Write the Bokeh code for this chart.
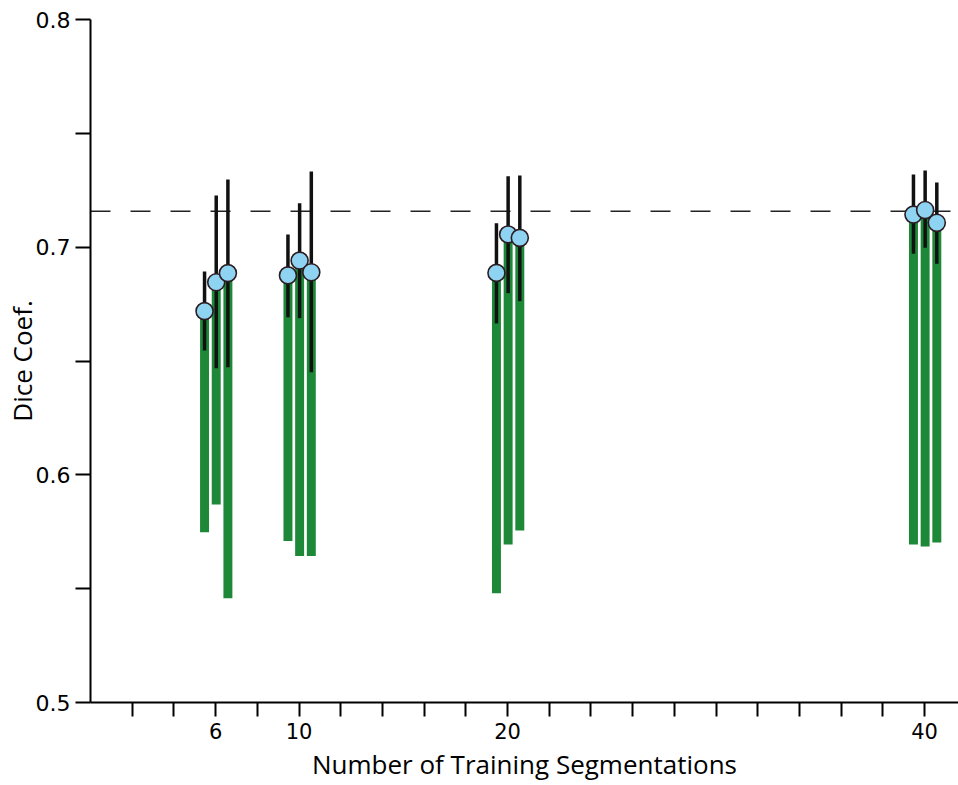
from bokeh.plotting import figure
from bokeh.models import FixedTicker, Span, ColumnDataSource, Range1d
from bokeh.embed import file_html
from bokeh.resources import INLINE

# ---- data ----
groups = [6, 10, 20, 40]

s1_mean = [0.6719, 0.6876, 0.6887, 0.7143]
s1_hi   = [0.6893, 0.7056, 0.7105, 0.7319]
s1_lo   = [0.6546, 0.6692, 0.6665, 0.6971]
s1_min  = [0.5748, 0.5709, 0.5480, 0.5694]

s2_mean = [0.6846, 0.6941, 0.7056, 0.7163]
s2_hi   = [0.7227, 0.7193, 0.7312, 0.7337]
s2_lo   = [0.6468, 0.6688, 0.6798, 0.6997]
s2_min  = [0.5870, 0.5643, 0.5694, 0.5685]

s3_mean = [0.6886, 0.6890, 0.7041, 0.7107]
s3_hi   = [0.7297, 0.7332, 0.7315, 0.7284]
s3_lo   = [0.6473, 0.6451, 0.6763, 0.6927]
s3_min  = [0.5458, 0.5643, 0.5755, 0.5703]

reference_level = 0.7158

x_ticks = [2, 4, 6, 8, 10, 12, 14, 16, 18, 20, 22, 24, 26, 28, 30, 32, 34, 36, 38, 40]
x_labelled = [6, 10, 20, 40]
y_ticks = [0.5, 0.55, 0.6, 0.65, 0.7, 0.75, 0.8]
y_labelled = [0.5, 0.6, 0.7, 0.8]

series = [
    (s1_mean, s1_hi, s1_lo, s1_min),
    (s2_mean, s2_hi, s2_lo, s2_min),
    (s3_mean, s3_hi, s3_lo, s3_min),
]
dodge = [-0.53, 0.03, 0.59]

GREEN = "#1d8837"
BLUE = "#8fd3f2"

p = figure(width=958, height=785, output_backend="svg", toolbar_location=None,
           x_range=Range1d(0, 41.63), y_range=Range1d(0.5, 0.8),
           min_border_left=90, min_border_right=0, min_border_top=19, min_border_bottom=83)
p.outline_line_color = None
p.grid.visible = False
p.background_fill_color = "white"
p.border_fill_color = "white"

ref = Span(location=reference_level, dimension="width", line_color="#222222",
           line_width=1.6, line_dash="20 20", level="underlay")
p.add_layout(ref)

sources = []
for (mean, hi, lo, mn), dx in zip(series, dodge):
    src = ColumnDataSource(dict(x=[g + dx for g in groups], mean=mean, hi=hi, lo=lo, mn=mn))
    sources.append(src)

for src in sources:
    p.vbar(x="x", width=0.43, bottom="mn", top="mean", source=src,
           fill_color=GREEN, line_color=None)
for src in sources:
    p.segment(x0="x", y0="lo", x1="x", y1="hi", source=src,
              line_color="#111111", line_width=3.5)
for src in sources:
    p.scatter(x="x", y="mean", source=src, size=17, fill_color=BLUE,
              line_color="#2b1d22", line_width=1.6)

# x axis
xa = p.xaxis[0]
xa.ticker = FixedTicker(ticks=x_ticks)
xa.major_label_overrides = {t: (str(t) if t in x_labelled else "") for t in x_ticks}
xa.axis_label = "Number of Training Segmentations"

# y axis
ya = p.yaxis[0]
ya.ticker = FixedTicker(ticks=y_ticks)
ya.major_label_overrides = {t: (f"{t:.1f}" if t in y_labelled else "") for t in y_ticks}
ya.axis_label = "Dice Coef."

for ax in (xa, ya):
    ax.axis_line_width = 2
    ax.axis_line_color = "black"
    ax.major_tick_line_width = 2
    ax.major_tick_line_color = "black"
    ax.major_tick_in = 0
    ax.minor_tick_line_color = None
    ax.major_label_text_font = "DejaVu Sans"
    ax.major_label_text_color = "black"
    ax.axis_label_text_font = "Open Sans"
    ax.axis_label_text_font_style = "normal"
    ax.axis_label_text_font_size = "26px"
    ax.axis_label_text_color = "black"
    ax.axis_label_text_line_height = 1.0

xa.major_tick_out = 14
xa.major_label_text_font_size = "21px"
xa.major_label_standoff = 6
xa.axis_label_standoff = 4

ya.major_tick_out = 15
ya.major_label_text_font_size = "22px"
ya.major_label_standoff = 5
ya.axis_label_standoff = -7

open("out.html", "w").write(file_html(p, INLINE))
